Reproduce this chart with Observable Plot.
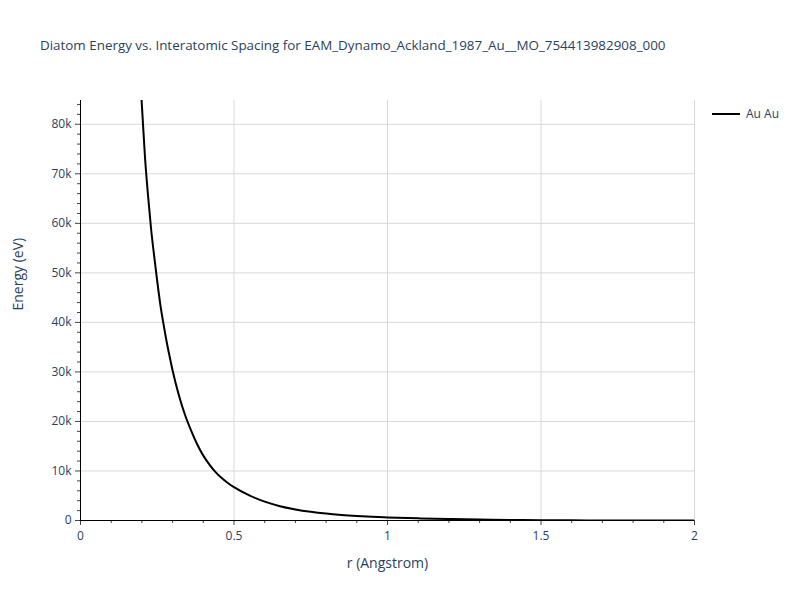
<!DOCTYPE html>
<html>
<head>
<meta charset="utf-8">
<script src="https://cdn.jsdelivr.net/npm/d3@7"></script>
<script src="https://cdn.jsdelivr.net/npm/@observablehq/plot@0.6"></script>
<style>
  body { margin: 0; background: #fff; }
  #wrap { position: relative; width: 800px; height: 600px; font-family: "Open Sans", sans-serif; }
  #title { position: absolute; left: 40px; top: 36px; font-size: 13.4px; color: #2a3f5f; white-space: nowrap; }
  #legend { position: absolute; left: 712px; top: 105px; font-size: 12px; color: #2a3f5f; display: flex; align-items: center; }
  #legend .sw { width: 28px; height: 0; border-top: 2px solid #000; margin-right: 6px; }
  #chart { position: absolute; left: 0; top: 0; }
</style>
</head>
<body>
<div id="wrap">
  <div id="chart"></div>
  <div id="title">Diatom Energy vs. Interatomic Spacing for EAM_Dynamo_Ackland_1987_Au__MO_754413982908_000</div>
  <div id="legend"><div class="sw"></div><span>Au Au</span></div>
</div>
<script>
const seriesName = "Au Au";
const r = [0.19, 0.20, 0.21, 0.22, 0.23, 0.24, 0.25, 0.26, 0.27, 0.28, 0.29, 0.30, 0.32, 0.34, 0.36, 0.38, 0.40, 0.42, 0.44, 0.46, 0.48, 0.50, 0.55, 0.60, 0.65, 0.70, 0.75, 0.80, 0.85, 0.90, 0.95, 1.00, 1.10, 1.20, 1.30, 1.40, 1.50, 1.60, 1.70, 1.80, 1.90, 2.00];
const energy = [93500, 83800, 73400, 65600, 58800, 53400, 48300, 43600, 39800, 36300, 33200, 30300, 25400, 21400, 18200, 15400, 13100, 11300, 9780, 8570, 7570, 6730, 5060, 3800, 2890, 2230, 1750, 1390, 1120, 910, 745, 620, 440, 300, 200, 120, 70, 35, 15, 5, 0, 0];
const xTicks = [0, 0.5, 1, 1.5, 2];
const xMinor = [0.1, 0.2, 0.3, 0.4, 0.6, 0.7, 0.8, 0.9, 1.1, 1.2, 1.3, 1.4, 1.6, 1.7, 1.8, 1.9];
const yTicks = [0, 10000, 20000, 30000, 40000, 50000, 60000, 70000, 80000];
const yMinor = d3.range(2000, 86000, 2000).filter(v => v % 10000 !== 0);

const data = r.map((v, i) => ({r: v, e: energy[i]}));
const textColor = "#2a3f5f";

const chart = Plot.plot({
  width: 800,
  height: 600,
  marginLeft: 80,
  marginRight: 106,
  marginTop: 100,
  marginBottom: 80,
  style: {fontFamily: "Open Sans, sans-serif", fontSize: "12px", color: textColor, background: "#fff"},
  x: {domain: [0, 2]},
  y: {domain: [0, 84800]},
  marks: [
    Plot.gridX(xTicks, {stroke: "#d9d9d9", strokeOpacity: 1}),
    Plot.gridY(yTicks, {stroke: "#d9d9d9", strokeOpacity: 1}),
    Plot.axisX(xTicks, {tickSize: 5, tickPadding: 6, stroke: "#444", fill: textColor, tickFormat: d => String(d), fontSize: 12, label: null}),
    Plot.axisX(xMinor, {tickSize: 3, stroke: "#444", tickFormat: () => "", label: null}),
    Plot.axisY(yTicks, {tickSize: 5, tickPadding: 4, stroke: "#444", fill: textColor, tickFormat: d => d === 0 ? "0" : (d / 1000) + "k", fontSize: 12, label: null}),
    Plot.axisY(yMinor, {tickSize: 3, stroke: "#444", tickFormat: () => "", label: null}),
    Plot.ruleX([0], {stroke: "#000", strokeWidth: 1}),
    Plot.ruleY([0], {stroke: "#000", strokeWidth: 1}),
    Plot.line(data, {x: "r", y: "e", stroke: "#000", strokeWidth: 2, curve: "monotone-x", clip: true}),
    Plot.text(["r (Angstrom)"], {frameAnchor: "bottom", dy: 47, fill: textColor, fontSize: 14, text: d => d}),
    Plot.text(["Energy (eV)"], {frameAnchor: "left", dx: -62, rotate: -90, fill: textColor, fontSize: 14, text: d => d})
  ]
});
document.getElementById("chart").appendChild(chart);
</script>
</body>
</html>
